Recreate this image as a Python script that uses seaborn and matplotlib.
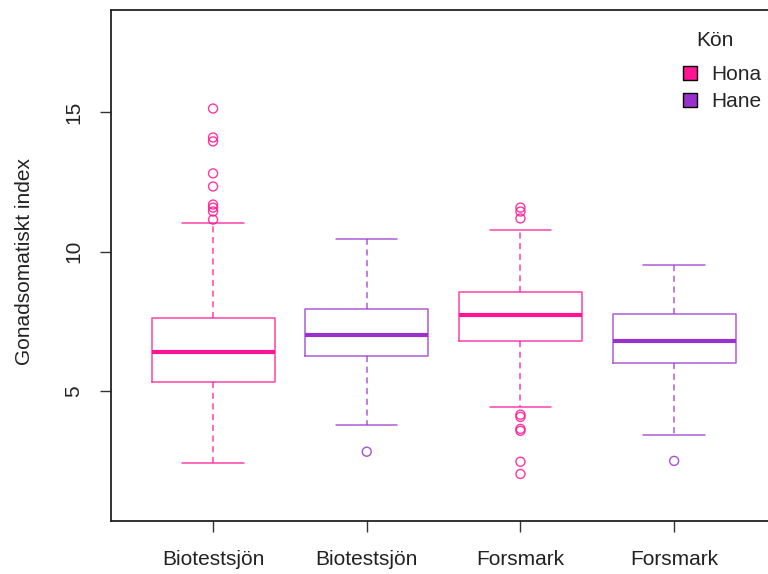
import matplotlib
matplotlib.use("Agg")
import matplotlib.pyplot as plt
from matplotlib.patches import Patch
import seaborn as sns
import pandas as pd

# Group labels, sex and box summaries (Gonadosomatic index)
sites = ["Biotestsjön", "Biotestsjön", "Forsmark", "Forsmark"]
sex = ["Hona", "Hane", "Hona", "Hane"]
whisker_low = [2.41, 3.78, 4.42, 3.42]
q1 = [5.32, 6.26, 6.80, 6.01]
median = [6.40, 7.01, 7.73, 6.80]
q3 = [7.63, 7.95, 8.53, 7.77]
whisker_high = [11.04, 10.47, 10.79, 9.50]
outliers = [
    [15.14, 14.10, 13.96, 12.81, 12.34, 11.69, 11.58, 11.44, 11.15],
    [2.81],
    [11.58, 11.44, 11.19, 4.14, 4.06, 3.63, 3.56, 2.45, 2.01],
    [2.48],
]
palette = {"Hona": "#FF1493", "Hane": "#9932CC"}

sns.set_style("white")
plt.rcParams["font.family"] = ["Liberation Sans", "DejaVu Sans"]

FS = 15
fig = plt.figure(figsize=(7.68, 5.74), dpi=100)
W, H = 768, 574
left_px, top_px, bottom_px = 111, 10, 521
x_lo, x_hi = 0.336, 5.18
px_per_unit = 153.7
right_px = left_px + (x_hi - x_lo) * px_per_unit
ax_w_px = right_px - left_px
ax = fig.add_axes([left_px / W, (H - bottom_px) / H,
                   ax_w_px / W, (bottom_px - top_px) / H])

positions = [1, 2, 3, 4]
for i, pos in enumerate(positions):
    col = palette[sex[i]]
    stats = [dict(med=median[i], q1=q1[i], q3=q3[i],
                  whislo=whisker_low[i], whishi=whisker_high[i], fliers=[])]
    ax.bxp(stats, positions=[pos], widths=0.8, showfliers=False,
           capwidths=0.4, patch_artist=False,
           boxprops=dict(color=col, linewidth=1.1, alpha=0.8),
           whiskerprops=dict(color=col, linewidth=1.1, alpha=0.8,
                             linestyle=(0, (4, 3))),
           capprops=dict(color=col, linewidth=1.1, alpha=0.8),
           medianprops=dict(color=col, linewidth=3.0, solid_capstyle="butt"))

# Outlying observations
rows = []
for i, pos in enumerate(positions):
    for v in outliers[i]:
        rows.append({"pos": pos, "value": v, "Kön": sex[i]})
df_out = pd.DataFrame(rows)
sns.scatterplot(data=df_out, x="pos", y="value", hue="Kön", palette=palette,
                marker="o", s=42, legend=False, ax=ax, zorder=3)
coll = ax.collections[-1]
fc = coll.get_facecolors()
coll.set_edgecolors(fc)
coll.set_facecolors("none")
coll.set_linewidths(1.0)
coll.set_alpha(0.85)

ax.set_xlim(x_lo, x_hi)
ax.set_ylim(0.32, 18.68)
ax.set_xticks(positions)
ax.set_xticklabels(sites)
ax.set_yticks([5, 10, 15])
ax.set_yticklabels(["5", "10", "15"], rotation=90, va="center")
ax.set_xlabel("")
ax.set_ylabel("Gonadsomatiskt index", fontsize=FS, color="#222222")
ax.yaxis.set_label_coords((34 - left_px) / ax_w_px, 0.508)
ax.tick_params(axis="both", direction="out", length=8, width=1.0,
               color="#333333", labelsize=FS, labelcolor="#222222",
               bottom=True, left=True)
ax.tick_params(axis="x", pad=13)
ax.tick_params(axis="y", pad=12)
for sp in ax.spines.values():
    sp.set_visible(True)
    sp.set_color("#222222")
    sp.set_linewidth(1.3)
ax.grid(False)

# Legend: title placed on its own, entries below it
fig.text(715 / W, 1 - 40 / H, "Kön", ha="center", va="center",
         fontsize=FS, color="#222222")
handles = [Patch(facecolor=palette[k], edgecolor="black", linewidth=1.0, label=k)
           for k in ["Hona", "Hane"]]
fig.legend(handles=handles, loc="upper left",
           bbox_to_anchor=(670.5 / W, 1 - 53 / H), frameon=False,
           fontsize=FS, handlelength=0.65,
           handleheight=0.65, handletextpad=0.7, labelspacing=0.36,
           borderaxespad=0.2)

fig.savefig("out.png", dpi=100)
